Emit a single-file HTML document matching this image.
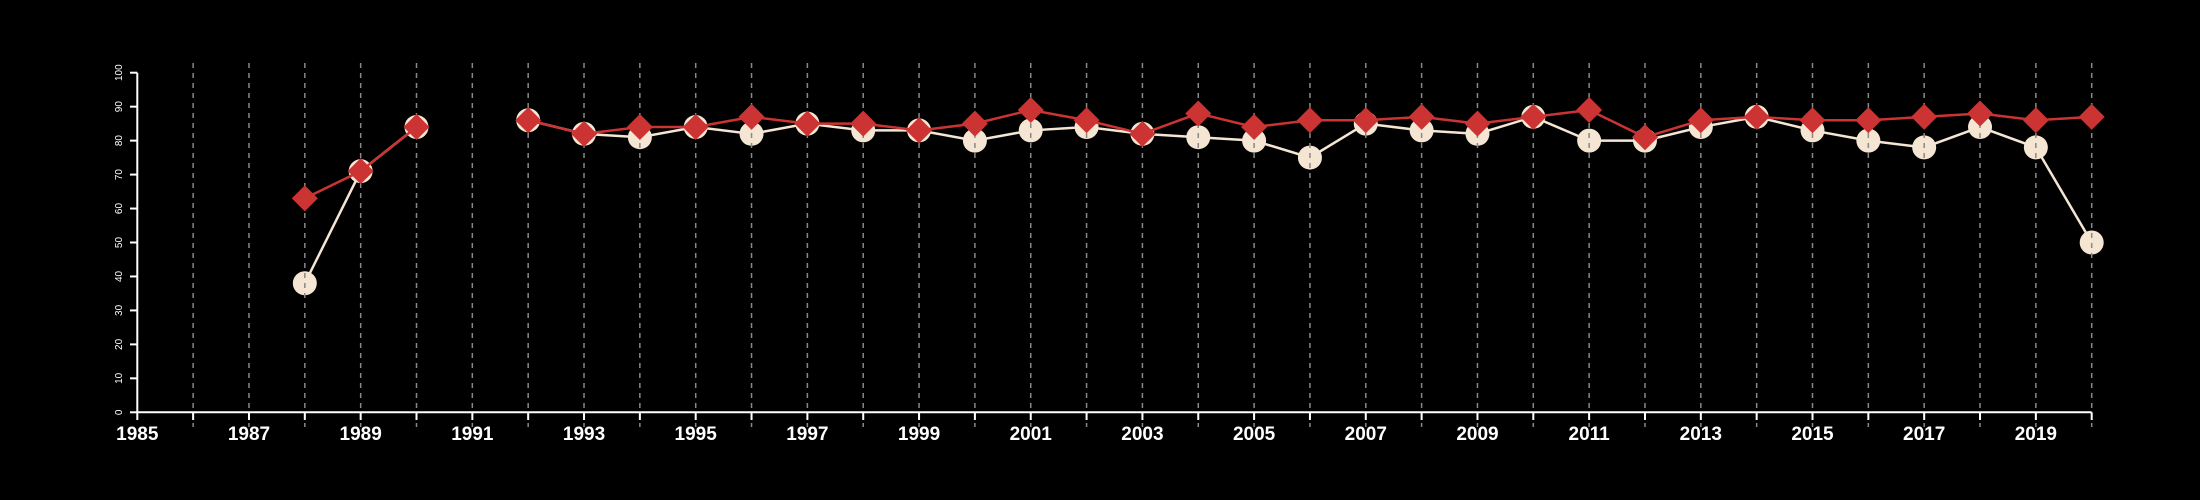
<!DOCTYPE html>
<html><head><meta charset="utf-8"><style>html,body{margin:0;background:#000;}svg{display:block;font-family:"Liberation Sans",sans-serif;}</style></head>
<body>
<svg id="chart" width="2200" height="500" viewBox="0 0 2200 500" xmlns="http://www.w3.org/2000/svg">
<rect width="2200" height="500" fill="#000"/>
</svg>
<script>
const years = [1988,1989,1990,1992,1993,1994,1995,1996,1997,1998,1999,2000,2001,2002,2003,2004,2005,2006,2007,2008,2009,2010,2011,2012,2013,2014,2015,2016,2017,2018,2019,2020];
const whiteValues = [38,71,84,86,82,81,84,82,85,83,83,80,83,84,82,81,80,75,85,83,82,87,80,80,84,87,83,80,78,84,78,50];
const redValues = [63,71,84,86,82,84,84,87,85,85,83,85,89,86,82,88,84,86,86,87,85,87,89,81,86,87,86,86,87,88,86,87];
const yTicks = [0,10,20,30,40,50,60,70,80,90,100];
const xLabels = [1985,1987,1989,1991,1993,1995,1997,1999,2001,2003,2005,2007,2009,2011,2013,2015,2017,2019];

const NS='http://www.w3.org/2000/svg';
const svg=document.getElementById('chart');
const x=v=>137.3+(v-1985)*55.84;
const y=v=>412.3-v*3.396;
function mk(tag,attrs,parent){const e=document.createElementNS(NS,tag);for(const k in attrs)e.setAttribute(k,attrs[k]);(parent||svg).appendChild(e);return e;}
function segs(vals){let out=[],cur=[];years.forEach((yr,i)=>{if(i>0&&yr-years[i-1]>1){out.push(cur);cur=[];}cur.push([x(yr),y(vals[i])]);});out.push(cur);return out;}

// white series line + circles
const gW=mk('g',{});


segs(whiteValues).forEach(s=>{const p=mk('polyline',{points:s.map(q=>q.join(',')).join(' '),fill:'none',stroke:'#f5e6d3','stroke-width':2.5},gW);

});
years.forEach((yr,i)=>{const c=mk('circle',{cx:x(yr),cy:y(whiteValues[i]),r:12,fill:'#f5e6d3'},gW);

});

// gridlines
const gG=mk('g',{});


for(let yr=1986;yr<=2020;yr++){const l=mk('line',{x1:x(yr),x2:x(yr),y1:63,y2:427,stroke:'#888','stroke-width':1.5,'stroke-dasharray':'5,5'},gG);

}

// red series
const gR=mk('g',{});


segs(redValues).forEach(s=>{const p=mk('polyline',{points:s.map(q=>q.join(',')).join(' '),fill:'none',stroke:'#cc3333','stroke-width':2.5},gR);

});
years.forEach((yr,i)=>{const cx=x(yr),cy=y(redValues[i]),d=13;
const p=mk('polygon',{points:`${cx},${cy-d} ${cx+d},${cy} ${cx},${cy+d} ${cx-d},${cy}`,fill:'#cc3333'},gR);

});

// axes
const gX=mk('g',{});


mk('line',{x1:x(1985),x2:x(2020),y1:412.3,y2:412.3,stroke:'#fff','stroke-width':2},gX);
for(let yr=1985;yr<=2020;yr++)mk('line',{x1:x(yr),x2:x(yr),y1:412.3,y2:420,stroke:'#fff','stroke-width':2},gX);
xLabels.forEach(v=>{const t=mk('text',{x:x(v),y:440,'text-anchor':'middle',fill:'#fff','font-size':19,'font-weight':'bold'},gX);t.textContent=v;

});
const gY=mk('g',{});


mk('line',{x1:137.3,x2:137.3,y1:y(0),y2:y(100),stroke:'#fff','stroke-width':2},gY);
yTicks.forEach(v=>{mk('line',{x1:130,x2:137.3,y1:y(v),y2:y(v),stroke:'#fff','stroke-width':2},gY);
const t=mk('text',{x:0,y:0,'text-anchor':'middle',fill:'#fff','font-size':10,transform:`translate(122,${y(v)}) rotate(-90)`},gY);t.textContent=v;

});
</script>
</body></html>
